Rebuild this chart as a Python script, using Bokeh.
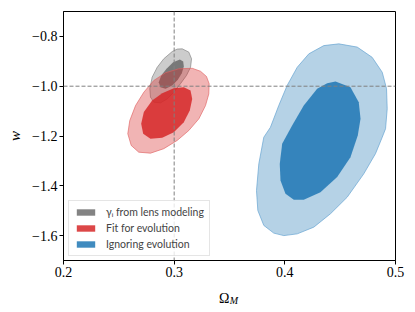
import numpy as np
from bokeh.plotting import figure
from bokeh.layouts import column
from bokeh.models import Span, Legend, LegendItem, FixedTicker
from bokeh.core.properties import value
from bokeh.embed import file_html
from bokeh.resources import INLINE

# ---- data (contour outlines) ----
gray_outer_x = [0.3073, 0.3132, 0.3157, 0.3148, 0.3111, 0.3057, 0.2997, 0.2937, 0.2876, 0.2816,
                0.2786, 0.2780, 0.2801, 0.2847, 0.2906, 0.2982, 0.3027]
gray_outer_y = [-0.850, -0.863, -0.890, -0.924, -0.957, -0.990, -1.024, -1.051, -1.067, -1.064,
                -1.044, -1.010, -0.964, -0.924, -0.890, -0.861, -0.851]
gray_inner_x = [0.3051, 0.3082, 0.3087, 0.3069, 0.3033, 0.2982, 0.2922, 0.2876, 0.2861, 0.2883,
                0.2931, 0.2991]
gray_inner_y = [-0.893, -0.901, -0.921, -0.948, -0.974, -0.997, -1.010, -1.004, -0.984, -0.957,
                -0.930, -0.904]
red_outer_x = [0.3163, 0.3238, 0.3292, 0.3316, 0.3313, 0.3283, 0.3223, 0.3132, 0.3027, 0.2906,
               0.2786, 0.2680, 0.2612, 0.2581, 0.2599, 0.2651, 0.2726, 0.2816, 0.2922, 0.3042]
red_outer_y = [-0.928, -0.940, -0.961, -0.990, -1.031, -1.078, -1.131, -1.178, -1.218, -1.251,
               -1.269, -1.265, -1.238, -1.191, -1.138, -1.078, -1.024, -0.977, -0.946, -0.930]
red_inner_x = [0.3087, 0.3148, 0.3163, 0.3141, 0.3087, 0.2997, 0.2892, 0.2786, 0.2720, 0.2702,
               0.2726, 0.2801, 0.2892, 0.2997]
red_inner_y = [-1.004, -1.017, -1.051, -1.098, -1.145, -1.185, -1.207, -1.211, -1.191, -1.151,
               -1.104, -1.057, -1.028, -1.008]
blue_outer_x = [0.4488, 0.4654, 0.4789, 0.4880, 0.4919, 0.4925, 0.4910, 0.4880, 0.4819, 0.4713,
                0.4563, 0.4413, 0.4262, 0.4112, 0.3991, 0.3900, 0.3810, 0.3756, 0.3744, 0.3765,
                0.3810, 0.3870, 0.3945, 0.4021, 0.4112, 0.4217, 0.4352]
blue_outer_y = [-0.830, -0.843, -0.884, -0.944, -1.010, -1.091, -1.171, -1.205, -1.271, -1.352,
                -1.446, -1.512, -1.566, -1.593, -1.600, -1.590, -1.559, -1.499, -1.419, -1.312,
                -1.205, -1.165, -1.078, -0.997, -0.924, -0.870, -0.837]
blue_inner_x = [0.4458, 0.4593, 0.4668, 0.4684, 0.4659, 0.4593, 0.4473, 0.4322, 0.4171, 0.4081,
                0.4006, 0.3961, 0.3954, 0.3976, 0.4066, 0.4171, 0.4292, 0.4383]
blue_inner_y = [-0.981, -1.004, -1.064, -1.131, -1.198, -1.285, -1.365, -1.426, -1.456, -1.456,
                -1.432, -1.379, -1.312, -1.231, -1.158, -1.078, -1.010, -0.988]

fiducial_om = 0.3
fiducial_w = -1.0
x_ticks = [0.2, 0.3, 0.4, 0.5]
x_tick_labels = ["0.2", "0.3", "0.4", "0.5"]
y_ticks = [-1.6, -1.4, -1.2, -1.0, -0.8]
y_tick_labels = ["\u22121.6", "\u22121.4", "\u22121.2", "\u22121.0", "\u22120.8"]
legend_labels = ["\u03b3\u1d62 from lens modeling", "Fit for evolution", "Ignoring evolution"]
x_label_main = "\u03a9"
x_label_sub = "M"
y_label = "w"

SERIF = "Liberation Serif"
X_RANGE = (0.2, 0.5)
W = 405
H1 = 282
H2 = 22

p = figure(width=W, height=H1, x_range=X_RANGE, y_range=(-1.7, -0.7),
           output_backend="svg", toolbar_location=None,
           min_border_left=63, min_border_right=10, min_border_top=11, min_border_bottom=22)
p.xgrid.visible = False
p.ygrid.visible = False
p.outline_line_color = "black"
p.outline_line_width = 1
p.outline_line_alpha = 1
p.background_fill_color = "white"
p.border_fill_color = "white"

for ax in (p.xaxis[0], p.yaxis[0]):
    ax.axis_line_color = "black"
    ax.major_tick_line_color = "black"
    ax.major_tick_in = 0
    ax.major_tick_out = 4
    ax.minor_tick_line_color = None
    ax.major_label_text_font = SERIF
    ax.major_label_text_font_size = "14px"
    ax.major_label_text_color = "black"
    ax.major_label_standoff = 2

p.xaxis[0].ticker = FixedTicker(ticks=x_ticks)
p.yaxis[0].ticker = FixedTicker(ticks=y_ticks)
p.xaxis[0].major_label_overrides = {t: l for t, l in zip(x_ticks, x_tick_labels)}
p.yaxis[0].major_label_overrides = {t: l for t, l in zip(y_ticks, y_tick_labels)}

p.yaxis[0].axis_label = y_label
p.yaxis[0].axis_label_text_font = SERIF
p.yaxis[0].axis_label_text_font_style = "italic"
p.yaxis[0].axis_label_text_font_size = "15px"
p.yaxis[0].axis_label_text_color = "black"
p.yaxis[0].axis_label_standoff = 6

# contours
p.patch(gray_outer_x, gray_outer_y, fill_color="#808080", fill_alpha=0.4,
        line_color="#808080", line_alpha=0.8, line_width=0.8)
r_gray = p.patch(gray_inner_x, gray_inner_y, fill_color="#606060", fill_alpha=0.78, line_color=None)
p.patch(red_outer_x, red_outer_y, fill_color="#d62728", fill_alpha=0.35,
        line_color="#e06060", line_alpha=0.8, line_width=0.8)
r_red = p.patch(red_inner_x, red_inner_y, fill_color="#d62728", fill_alpha=0.85, line_color=None)
p.patch(blue_outer_x, blue_outer_y, fill_color="#1f77b4", fill_alpha=0.33,
        line_color="#6aa6d2", line_alpha=0.9, line_width=0.8)
r_blue = p.patch(blue_inner_x, blue_inner_y, fill_color="#1f77b4", fill_alpha=0.85, line_color=None)

# fiducial lines
p.add_layout(Span(location=fiducial_om, dimension="height", line_color="#808080",
                  line_dash="4 2", line_width=1))
p.add_layout(Span(location=fiducial_w, dimension="width", line_color="#808080",
                  line_dash="4 2", line_width=1))

items = [LegendItem(label=lab, renderers=[r]) for lab, r in zip(legend_labels, [r_gray, r_red, r_blue])]
legend = Legend(items=items, location=(5, 4), glyph_width=23, glyph_height=8,
                label_text_font="Lato", label_text_font_size="10.5px", label_height=12,
                label_standoff=9, spacing=4, padding=5, margin=0,
                border_line_color="#cccccc", border_line_width=1,
                background_fill_color="white", background_fill_alpha=0.8)
p.add_layout(legend, "center")

# x-axis label strip (Omega with subscript M)
p2 = figure(width=W, height=H2, x_range=X_RANGE, y_range=(0, H2), title=None,
            output_backend="svg", toolbar_location=None,
            min_border_left=63, min_border_right=10, min_border_top=0, min_border_bottom=0)
p2.axis.visible = False
p2.xgrid.visible = False
p2.ygrid.visible = False
p2.outline_line_color = None
p2.border_fill_color = "white"
p2.text(x=[0.35], y=[6], text=[x_label_main], text_align="right", text_baseline="alphabetic",
        text_font=value(SERIF), text_font_size="14px", text_color="black")
p2.text(x=[0.3503], y=[4], text=[x_label_sub], text_align="left", text_baseline="alphabetic",
        text_font=value(SERIF), text_font_style="italic", text_font_size="10px", text_color="black")

layout = column(p, p2, spacing=0)
open("out.html", "w").write(file_html(layout, INLINE))
